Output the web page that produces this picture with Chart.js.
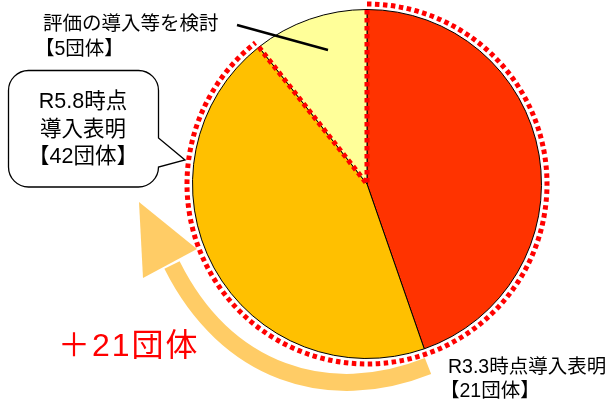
<!DOCTYPE html>
<html>
<head>
<meta charset="utf-8">
<script src="https://cdn.jsdelivr.net/npm/chart.js@4/dist/chart.umd.min.js"></script>
<style>
  html, body { margin: 0; padding: 0; background: #fff; }
  #wrap { position: relative; width: 609px; height: 401px; overflow: hidden; }
  #wrap canvas { position: absolute; left: 0; top: 0; }
  .lbl { position: absolute; white-space: nowrap; color: #000;
         font-family: "Liberation Sans", "Noto Sans CJK JP", sans-serif; }
</style>
</head>
<body>
<div id="wrap">
  <canvas id="c" width="609" height="401"></canvas>
  <div class="lbl" id="topLabel" style="left:43px; top:11px; font-size:19.5px; line-height:25px;">評価の導入等を検討<br><span style="margin-left:-8px">【5団体】</span></div>
  <div class="lbl" id="callout" style="left:8px; width:150px; top:88px; font-size:21.5px; line-height:27.5px; text-align:center;">R5.8時点<br>導入表明<br>【42団体】</div>
  <div class="lbl" id="botLabel" style="left:448px; top:354px; font-size:19.5px; line-height:24px;">R3.3時点導入表明<br><span style="margin-left:-8px">【21団体】</span></div>
  <div class="lbl" id="plus" style="left:58px; top:327px; font-size:32px; line-height:36px; letter-spacing:2px; color:#FF0000;">＋21団体</div>
</div>
<script>
// ---- data ----
const categories = ['R3.3時点導入表明', 'R3.3以降R5.8までに導入表明', '評価の導入等を検討'];
const values = [21, 21, 5];
const sliceColors = ['#FF3300', '#FFC000', '#FFFF99'];

const overlay = {
  id: 'overlay',
  afterDatasetsDraw(chart) {
    const ctx = chart.ctx;
    const arcs = chart.getDatasetMeta(0).data;
    const cx = arcs[0].x, cy = arcs[0].y, r = arcs[0].outerRadius;
    const a0 = arcs[0].startAngle;       // top
    const aB = arcs[1].endAngle;         // boundary orange / yellow

    // curved arrow
    ctx.save();
    ctx.strokeStyle = '#FFCC66';
    ctx.fillStyle = '#FFCC66';
    ctx.lineWidth = 17;
    ctx.lineCap = 'butt';
    ctx.beginPath();
    ctx.moveTo(428, 366);
    ctx.bezierCurveTo(328, 406, 226, 373, 172, 265);
    ctx.stroke();
    ctx.beginPath();
    ctx.moveTo(139, 202);
    ctx.lineTo(143, 278);
    ctx.lineTo(197, 249);
    ctx.closePath();
    ctx.fill();
    ctx.restore();

    // dotted outline around the 42 group part
    ctx.save();
    ctx.strokeStyle = '#FF0000';
    ctx.lineWidth = 5;
    ctx.setLineDash([4.5, 3.5]);
    ctx.beginPath();
    ctx.arc(cx, cy, r + 5.5, a0, aB, false);
    ctx.stroke();
    ctx.beginPath();
    ctx.moveTo(cx + r * Math.cos(aB), cy + r * Math.sin(aB));
    ctx.lineTo(cx, cy);
    ctx.lineTo(cx + r * Math.cos(a0), cy + r * Math.sin(a0));
    ctx.stroke();
    ctx.restore();

    // leader line for the small slice
    ctx.save();
    ctx.strokeStyle = '#000';
    ctx.lineWidth = 2.4;
    ctx.beginPath();
    ctx.moveTo(237, 25);
    ctx.lineTo(328, 50);
    ctx.stroke();
    ctx.restore();

    // callout bubble
    ctx.save();
    ctx.strokeStyle = '#000';
    ctx.fillStyle = '#fff';
    ctx.lineWidth = 1.3;
    const L = 8.5, T = 70.5, R = 158.5, B = 187, rad = 20;
    ctx.beginPath();
    ctx.moveTo(L + rad, T);
    ctx.lineTo(R - rad, T);
    ctx.arcTo(R, T, R, T + rad, rad);
    ctx.lineTo(R, 138);
    ctx.lineTo(185, 160);
    ctx.lineTo(R, 167);
    ctx.lineTo(R, B - rad);
    ctx.arcTo(R, B, R - rad, B, rad);
    ctx.lineTo(L + rad, B);
    ctx.arcTo(L, B, L, B - rad, rad);
    ctx.lineTo(L, T + rad);
    ctx.arcTo(L, T, L + rad, T, rad);
    ctx.closePath();
    ctx.fill();
    ctx.stroke();
    ctx.restore();
  }
};

new Chart(document.getElementById('c'), {
  type: 'pie',
  data: {
    labels: categories,
    datasets: [{
      data: values,
      backgroundColor: sliceColors,
      borderColor: '#000',
      borderWidth: 1,
      borderAlign: 'center'
    }]
  },
  options: {
    responsive: false,
    animation: false,
    events: [],
    layout: { padding: { left: 192, right: 67, top: 9, bottom: 42 } },
    plugins: { legend: { display: false }, tooltip: { enabled: false } }
  },
  plugins: [overlay]
});
</script>
</body>
</html>
